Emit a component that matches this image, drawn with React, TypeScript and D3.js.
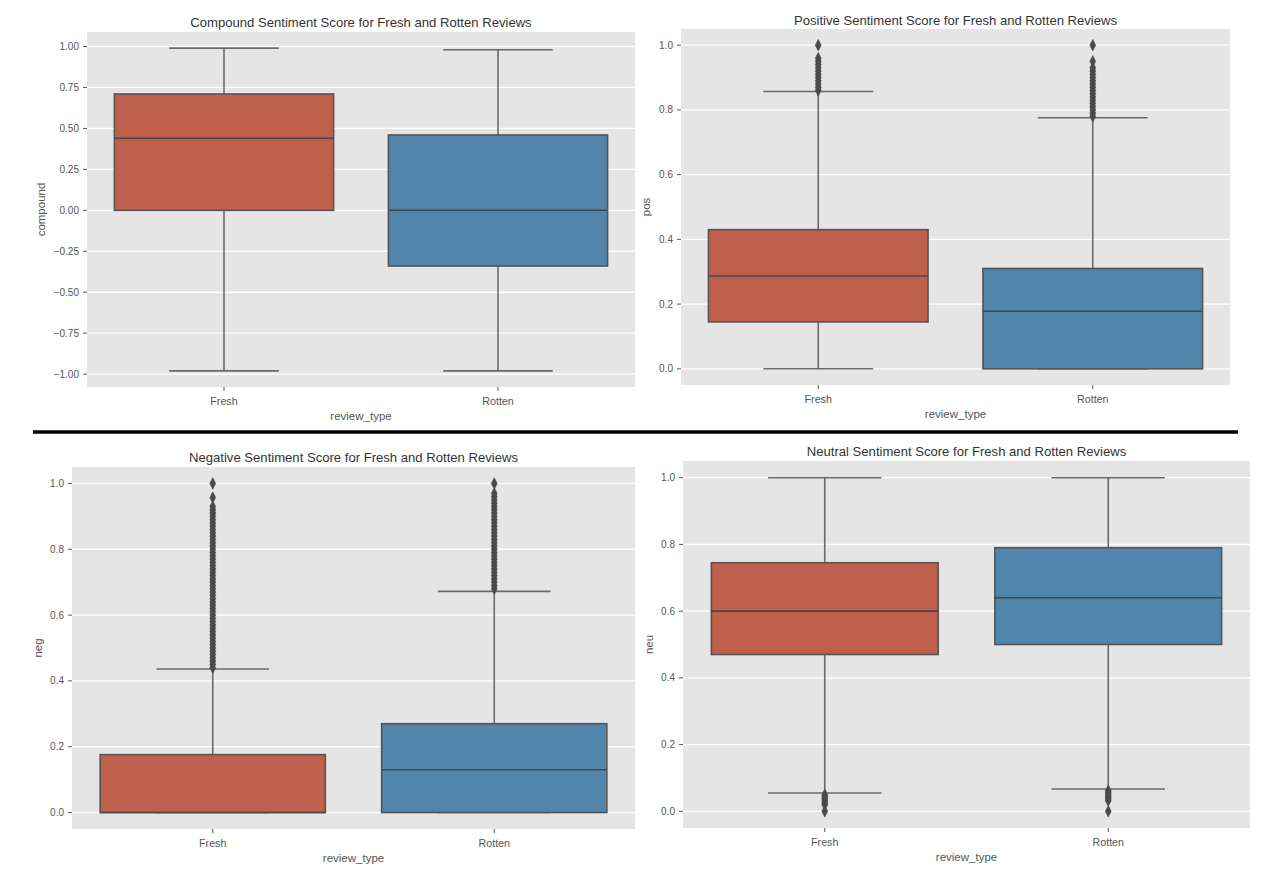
import React from "react";
import * as d3 from "d3";

// ---------- data ----------
const categories = ["Fresh", "Rotten"];
const boxColors = ["#BF604D", "#5285AC"];

// [whiskerLow, Q1, median, Q3, whiskerHigh]
const compoundFresh = [-0.98, 0.0, 0.44, 0.71, 0.99];
const compoundRotten = [-0.98, -0.34, 0.0, 0.46, 0.98];
const posFresh = [0.0, 0.145, 0.287, 0.43, 0.857];
const posRotten = [0.0, 0.0, 0.178, 0.31, 0.776];
const negFresh = [0.0, 0.0, 0.0, 0.176, 0.436];
const negRotten = [0.0, 0.0, 0.13, 0.27, 0.672];
const neuFresh = [0.055, 0.47, 0.6, 0.745, 1.0];
const neuRotten = [0.067, 0.5, 0.64, 0.79, 1.0];

const posFreshOutliers = [0.86, 0.87, 0.88, 0.89, 0.9, 0.91, 0.92, 0.93, 0.94, 0.95, 0.96, 1.0];
const posRottenOutliers = [0.78, 0.79, 0.8, 0.81, 0.82, 0.83, 0.84, 0.85, 0.86, 0.87, 0.88, 0.89, 0.9, 0.91, 0.92, 0.93, 0.95, 1.0];
const negFreshOutliers = [
  0.44, 0.45, 0.46, 0.47, 0.48, 0.49, 0.5, 0.51, 0.52, 0.53, 0.54, 0.55, 0.56, 0.57, 0.58, 0.59,
  0.6, 0.61, 0.62, 0.63, 0.64, 0.65, 0.66, 0.67, 0.68, 0.69, 0.7, 0.71, 0.72, 0.73, 0.74, 0.75,
  0.76, 0.77, 0.78, 0.79, 0.8, 0.81, 0.82, 0.83, 0.84, 0.85, 0.86, 0.87, 0.88, 0.89, 0.9, 0.91,
  0.92, 0.93, 0.957, 1.0,
];
const negRottenOutliers = [
  0.68, 0.69, 0.7, 0.71, 0.72, 0.73, 0.74, 0.75, 0.76, 0.77, 0.78, 0.79, 0.8, 0.81, 0.82, 0.83,
  0.84, 0.85, 0.86, 0.87, 0.88, 0.89, 0.9, 0.91, 0.92, 0.93, 0.94, 0.95, 0.96, 0.97, 1.0,
];
const neuFreshOutliers = [0.05, 0.045, 0.04, 0.035, 0.03, 0.025, 0.02, 0.0];
const neuRottenOutliers = [0.062, 0.057, 0.052, 0.047, 0.042, 0.037, 0.032, 0.0];

const compoundTicks = [1.0, 0.75, 0.5, 0.25, 0.0, -0.25, -0.5, -0.75, -1.0];
const unitTicks = [0.0, 0.2, 0.4, 0.6, 0.8, 1.0];

const titles = [
  "Compound Sentiment Score for Fresh and Rotten Reviews",
  "Positive Sentiment Score for Fresh and Rotten Reviews",
  "Negative Sentiment Score for Fresh and Rotten Reviews",
  "Neutral Sentiment Score for Fresh and Rotten Reviews",
];
const yLabels = ["compound", "pos", "neg", "neu"];
const xLabel = "review_type";

// ---------- layout ----------
type Panel = {
  title: string;
  ylabel: string;
  stats: number[][];
  outliers: number[][];
  ticks: number[];
  fmt: (v: number) => string;
  rect: { x0: number; x1: number; y0: number; y1: number };
  ylabelX: number;
  titleY: number;
};

const fmt2 = d3.format(".2f");
const fmt1 = d3.format(".1f");
const minus = (s: string) => s.replace("-", "\u2212");

const panels: Panel[] = [
  {
    title: titles[0], ylabel: yLabels[0],
    stats: [compoundFresh, compoundRotten], outliers: [[], []],
    ticks: compoundTicks, fmt: (v) => minus(fmt2(v)),
    rect: { x0: 87, x1: 635, y0: 32, y1: 387 }, ylabelX: 41, titleY: 22,
  },
  {
    title: titles[1], ylabel: yLabels[1],
    stats: [posFresh, posRotten], outliers: [posFreshOutliers, posRottenOutliers],
    ticks: unitTicks, fmt: (v) => fmt1(v),
    rect: { x0: 681, x1: 1230, y0: 29, y1: 385 }, ylabelX: 646, titleY: 20,
  },
  {
    title: titles[2], ylabel: yLabels[2],
    stats: [negFresh, negRotten], outliers: [negFreshOutliers, negRottenOutliers],
    ticks: unitTicks, fmt: (v) => fmt1(v),
    rect: { x0: 72, x1: 635, y0: 467, y1: 829 }, ylabelX: 38, titleY: 457,
  },
  {
    title: titles[3], ylabel: yLabels[3],
    stats: [neuFresh, neuRotten], outliers: [neuFreshOutliers, neuRottenOutliers],
    ticks: unitTicks, fmt: (v) => fmt1(v),
    rect: { x0: 683, x1: 1250, y0: 461, y1: 828 }, ylabelX: 649, titleY: 451,
  },
];

const FONT = "'Liberation Sans', Arial, Helvetica, sans-serif";
const LINE = "#555555";
const TEXT = "#555555";

function BoxPanel({ p }: { p: Panel }) {
  const { x0, x1, y0, y1 } = p.rect;
  const x = d3.scaleBand<string>().domain(categories).range([x0, x1]).paddingInner(0).paddingOuter(0);
  const bw = x.bandwidth();
  const all = p.stats.flat().concat(p.outliers.flat());
  const mn = d3.min(all) as number;
  const mx = d3.max(all) as number;
  const pad = (mx - mn) * 0.05;
  const y = d3.scaleLinear().domain([mn - pad, mx + pad]).range([y1, y0]);
  const diamond = d3.symbol().type(d3.symbolDiamond).size(24);

  return (
    <g>
      <rect x={x0} y={y0} width={x1 - x0} height={y1 - y0} fill="#E5E5E5" />
      {p.ticks.map((t) => (
        <g key={t}>
          <line x1={x0} x2={x1} y1={y(t)} y2={y(t)} stroke="#FFFFFF" strokeWidth={1.3} />
          <line x1={x0 - 4} x2={x0} y1={y(t)} y2={y(t)} stroke={TEXT} strokeWidth={1} />
          <text x={x0 - 8} y={y(t)} textAnchor="end" dominantBaseline="central" fontSize={10} fill={TEXT} fontFamily={FONT}>
            {p.fmt(t)}
          </text>
        </g>
      ))}
      {categories.map((c, i) => {
        const cx = (x(c) as number) + bw / 2;
        const [lo, q1, med, q3, hi] = p.stats[i];
        const boxW = bw * 0.8;
        const capW = bw * 0.4;
        return (
          <g key={c}>
            <line x1={cx} x2={cx} y1={y(q3)} y2={y(hi)} stroke={LINE} strokeWidth={1.6} strokeOpacity={0.85} />
            <line x1={cx} x2={cx} y1={y(q1)} y2={y(lo)} stroke={LINE} strokeWidth={1.6} strokeOpacity={0.85} />
            <line x1={cx - capW / 2} x2={cx + capW / 2} y1={y(hi)} y2={y(hi)} stroke={LINE} strokeWidth={1.6} strokeOpacity={0.85} />
            <line x1={cx - capW / 2} x2={cx + capW / 2} y1={y(lo)} y2={y(lo)} stroke={LINE} strokeWidth={1.6} strokeOpacity={0.85} />
            <rect x={cx - boxW / 2} y={y(q3)} width={boxW} height={Math.max(0, y(q1) - y(q3))} fill={boxColors[i]} stroke={LINE} strokeWidth={1.6} />
            <line x1={cx - boxW / 2} x2={cx + boxW / 2} y1={y(med)} y2={y(med)} stroke="#474747" strokeWidth={1.6} />
            {p.outliers[i].map((v, k) => (
              <path key={k} d={diamond() as string} transform={`translate(${cx},${y(v)}) scale(1.1,1.25)`} fill="#4a4a4a" stroke="#4a4a4a" strokeWidth={0.6} />
            ))}
            <line x1={cx} x2={cx} y1={y1} y2={y1 + 4} stroke={TEXT} strokeWidth={1} />
            <text x={cx} y={y1 + 13.5} textAnchor="middle" dominantBaseline="central" fontSize={10.7} fill={TEXT} fontFamily={FONT}>
              {c}
            </text>
          </g>
        );
      })}
      <text x={(x0 + x1) / 2} y={y1 + 28.5} textAnchor="middle" dominantBaseline="central" fontSize={11.5} fill={TEXT} fontFamily={FONT}>
        {xLabel}
      </text>
      <text
        transform={`translate(${p.ylabelX},${(y0 + y1) / 2}) rotate(-90)`}
        textAnchor="middle" dominantBaseline="central" fontSize={11.5} fill={TEXT} fontFamily={FONT}
      >
        {p.ylabel}
      </text>
      <text x={(x0 + x1) / 2} y={p.titleY} textAnchor="middle" dominantBaseline="central" fontSize={13.1} fill="#333333" fontFamily={FONT}>
        {p.title}
      </text>
    </g>
  );
}

export default function App() {
  return (
    <svg
      width={1278}
      height={872}
      viewBox="0 0 1278 872"
      style={{ position: "absolute", left: 0, top: 0, display: "block", background: "#FFFFFF" }}
    >
      <rect x={0} y={0} width={1278} height={872} fill="#FFFFFF" />
      {panels.map((p, i) => (
        <BoxPanel key={i} p={p} />
      ))}
      <line x1={33} x2={1238} y1={432} y2={432} stroke="#000000" strokeWidth={3.5} />
    </svg>
  );
}
